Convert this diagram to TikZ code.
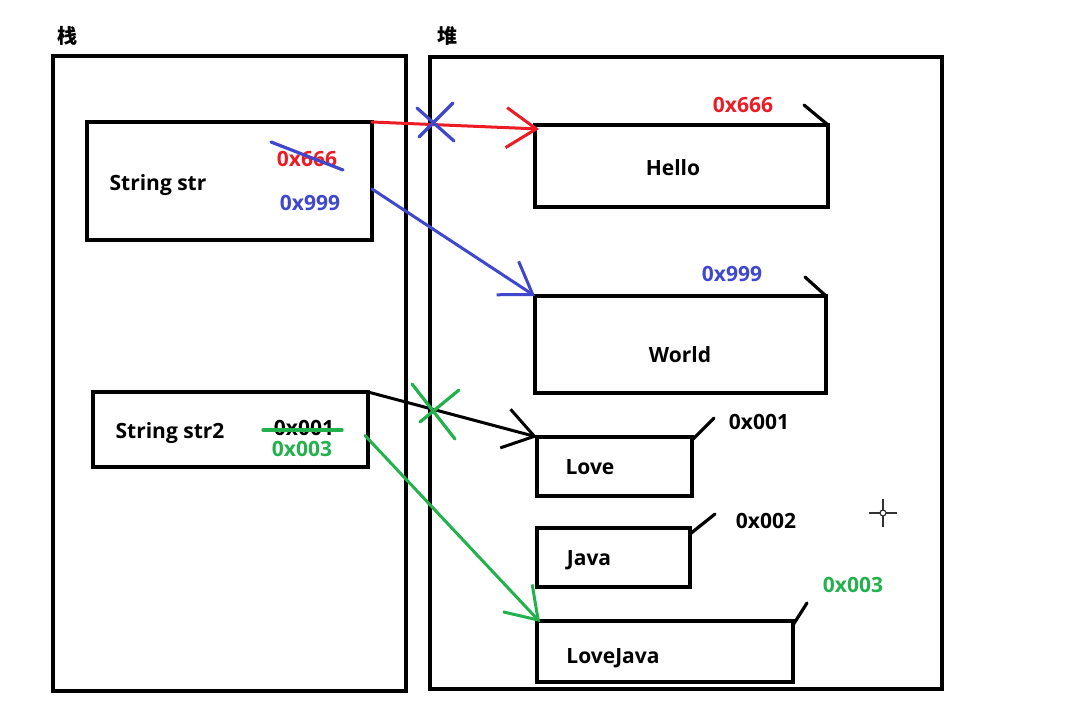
\documentclass[tikz,border=0pt]{standalone}
\usepackage{fontspec}
\setmainfont{Open Sans}
\newfontfamily\cjkfont{Noto Sans CJK SC}
\usetikzlibrary{arrows.meta}
\definecolor{pred}{HTML}{ED1C24}
\definecolor{pblue}{HTML}{3F48CC}
\definecolor{pgreen}{HTML}{22B14C}
\definecolor{cursorgray}{HTML}{333333}
\tikzset{
  box/.style={draw=black, line width=3.6pt, rectangle, inner sep=0pt, outer sep=0pt, anchor=north west},
  txt/.style={font=\fontsize{21}{24}\selectfont\bfseries, inner sep=0pt, text=black},
  cjk/.style={font=\fontsize{20}{24}\selectfont\cjkfont\bfseries, inner sep=0pt},
  ptr/.style={line width=3pt, line cap=round, -{Straight Barb[length=30pt,width=40pt,line width=3pt]}},
  strike/.style={line width=3.2pt, line cap=round},
  tick/.style={line width=3.2pt, line cap=round},
}
\begin{document}
\begin{tikzpicture}[x=1pt,y=-1pt]
\useasboundingbox[fill=white] (0,0) rectangle (1074,715);
% titles
\node[cjk] (stacklbl) at (67,36) {栈};
\node[cjk] (heaplbl) at (447,36) {堆};
% regions
\node[box, minimum width=353pt, minimum height=635pt] (stack) at (53,56) {};
\node[box, minimum width=512pt, minimum height=632pt] (heap) at (430,57) {};
% stack boxes
\node[box, minimum width=285pt, minimum height=118pt] (str) at (87,122) {};
\node[box, minimum width=275pt, minimum height=75pt] (str2) at (93,392) {};
% heap boxes
\node[box, minimum width=293pt, minimum height=82pt] (hello) at (535,125) {};
\node[box, minimum width=291pt, minimum height=97pt] (world) at (535,296) {};
\node[box, minimum width=155pt, minimum height=59pt] (love) at (537,437) {};
\node[box, minimum width=153pt, minimum height=59pt] (java) at (537,528) {};
\node[box, minimum width=256pt, minimum height=61pt] (lovejava) at (537,621) {};
% texts in stack
\node[txt] (strtxt) at (158,185) {String str};
\node[txt, text=pred] (old666) at (307,159) {0x666};
\node[txt, text=pblue] (new999) at (310,203) {0x999};
\node[txt] (str2txt) at (170,433) {String str2};
\node[txt] (old001) at (304,428) {0x001};
\node[txt, text=pgreen] (new003) at (302,449) {0x003};
% texts in heap
\node[txt] (hellotxt) at (673,168) {Hello};
\node[txt, text=pred] (a666) at (743,105) {0x666};
\node[txt] (worldtxt) at (680,355) {World};
\node[txt, text=pblue] (a999) at (732,274) {0x999};
\node[txt] (lovetxt) at (590,467) {Love};
\node[txt] (a001) at (759,422) {0x001};
\node[txt] (javatxt) at (589,560) {Java};
\node[txt] (a002) at (766,521) {0x002};
\node[txt] (lovejavatxt) at (613,658) {LoveJava};
\node[txt, text=pgreen] (a003) at (853,585) {0x003};
% address ticks
\draw[tick] (hello.north east) -- ++(-24,-20);
\draw[tick] (world.north east) -- ++(-21,-19);
\draw[tick] ([yshift=-3pt]love.north east) -- ++(22,-22);
\draw[tick] ([yshift=-6pt]java.north east) -- ++(25,-20);
\draw[tick] ([yshift=-4pt]lovejava.north east) -- ++(14,-22);
% pointers
\draw[ptr, pred] (str.north east) -- ([shift={(4,4)}]hello.north west);
\draw[ptr, pblue] ([yshift=-8pt]str.east) -- (world.north west);
\draw[ptr, black] (str2.north east) -- (love.north west);
\draw[ptr, pgreen] ([shift={(-3,6)}]str2.east) -- ([shift={(3,1)}]lovejava.north west);
% crossings out
\draw[strike, pblue] (417,108) -- (454,141);
\draw[strike, pblue] (453,103) -- (419,137);
\draw[strike, pblue] (271,142) -- (343,170);
\draw[strike, pgreen] (412,384) -- (455,439);
\draw[strike, pgreen] (459,390) -- (420,422);
\draw[strike, pgreen] (263,430) -- (342,430);
% cursor
\draw[cursorgray, line width=1.2pt] (883,513) circle (3);
\draw[cursorgray, line width=1.2pt] (869,513) -- (880,513) (886,513) -- (897,513)
  (883,499) -- (883,510) (883,516) -- (883,527);
\end{tikzpicture}
\end{document}
